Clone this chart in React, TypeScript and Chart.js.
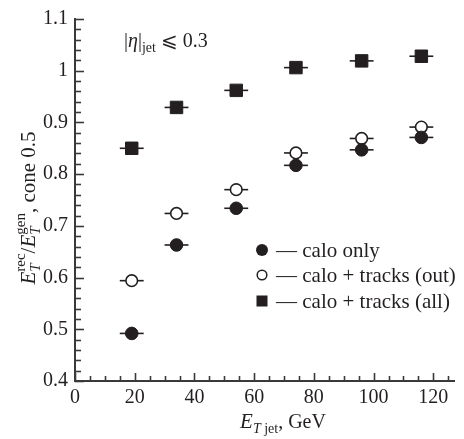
import React, { useEffect, useRef } from "react";
import { Chart, registerables } from "chart.js";

Chart.register(...registerables);

// ---- data ----
const energies = [19, 34, 54, 74, 96, 116];
const xErr = [4, 4, 4, 4, 4, 4];
const caloOnly = [0.492, 0.663, 0.734, 0.817, 0.847, 0.871];
const tracksOut = [0.594, 0.724, 0.77, 0.841, 0.869, 0.891];
const tracksAll = [0.85, 0.929, 0.962, 1.006, 1.019, 1.028];
const seriesLabels = ["calo only", "calo + tracks (out)", "calo + tracks (all)"];
const xTicks = [0, 20, 40, 60, 80, 100, 120];
const xTickLabels = ["0", "20", "40", "60", "80", "100", "120"];
const yTicks = [0.4, 0.5, 0.6, 0.7, 0.8, 0.9, 1.0, 1.1];
const yTickLabels = ["0.4", "0.5", "0.6", "0.7", "0.8", "0.9", "1", "1.1"];
const etaLabel = ["|", "η", "|", "jet", " ⩽ 0.3"];

const INK = "#231f20";
const AXIS = "#3a3a3a";
const SERIF = '"Liberation Serif", "DejaVu Serif", "DejaVu Sans", serif';

type Seg = { t: string; size: number; italic?: boolean; dy?: number; sup?: string; supSize?: number; supDy?: number };

function fontOf(size: number, italic?: boolean) {
  return `${italic ? "italic " : ""}${size}px ${SERIF}`;
}

function segWidth(ctx: CanvasRenderingContext2D, s: Seg) {
  ctx.font = fontOf(s.size, s.italic);
  let w = ctx.measureText(s.t).width;
  if (s.sup) {
    ctx.font = fontOf(s.supSize || s.size, false);
    w = Math.max(w, ctx.measureText(s.sup).width);
  }
  return w;
}

function drawRich(ctx: CanvasRenderingContext2D, segs: Seg[], x: number, y: number, align: "left" | "center", rot = 0) {
  ctx.save();
  ctx.translate(x, y);
  if (rot) ctx.rotate(rot);
  const widths = segs.map((s) => segWidth(ctx, s));
  const total = widths.reduce((a, b) => a + b, 0);
  let cx = align === "center" ? -total / 2 : 0;
  ctx.fillStyle = INK;
  ctx.textBaseline = "alphabetic";
  ctx.textAlign = "left";
  segs.forEach((s, i) => {
    ctx.font = fontOf(s.size, s.italic);
    ctx.fillText(s.t, cx, s.dy || 0);
    if (s.sup) {
      ctx.font = fontOf(s.supSize || s.size, false);
      ctx.fillText(s.sup, cx, s.supDy || 0);
    }
    cx += widths[i];
  });
  ctx.restore();
}

const decorPlugin = {
  id: "decor",
  beforeDatasetsDraw(chart: any) {
    const ctx = chart.ctx as CanvasRenderingContext2D;
    const xs = chart.scales.x;
    const ys = chart.scales.y;
    ctx.save();
    ctx.strokeStyle = INK;
    ctx.lineWidth = 1.6;
    chart.data.datasets.forEach((ds: any) => {
      ds.data.forEach((p: any, i: number) => {
        const e = xErr[i];
        const y = ys.getPixelForValue(p.y);
        ctx.beginPath();
        ctx.moveTo(xs.getPixelForValue(p.x - e), y);
        ctx.lineTo(xs.getPixelForValue(p.x + e), y);
        ctx.stroke();
      });
    });
    ctx.restore();
  },
  afterDraw(chart: any) {
    const ctx = chart.ctx as CanvasRenderingContext2D;
    const xs = chart.scales.x;
    const ys = chart.scales.y;
    const ca = chart.chartArea;
    ctx.save();
    ctx.strokeStyle = AXIS;
    ctx.lineWidth = 1.6;
    // x ticks (inward)
    for (let v = 0; v <= 125; v += 5) {
      const px = Math.round(xs.getPixelForValue(v)) + 0.5;
      const len = v % 20 === 0 ? 8 : 5;
      ctx.beginPath();
      ctx.moveTo(px, ca.bottom);
      ctx.lineTo(px, ca.bottom - len);
      ctx.stroke();
    }
    // y ticks (inward)
    for (let k = 0; k <= 35; k++) {
      const v = 0.4 + k * 0.02;
      const py = Math.round(ys.getPixelForValue(v)) + 0.5;
      const len = k % 5 === 0 ? 9 : 6;
      ctx.beginPath();
      ctx.moveTo(ca.left, py);
      ctx.lineTo(ca.left + len, py);
      ctx.stroke();
    }
    ctx.restore();

    // axis titles
    drawRich(
      ctx,
      [
        { t: "E", size: 21, italic: true },
        { t: "T", size: 15, italic: true, dy: 5, sup: "rec", supSize: 15, supDy: -10 },
        { t: "/", size: 21 },
        { t: "E", size: 21, italic: true },
        { t: "T", size: 15, italic: true, dy: 5, sup: "gen", supSize: 15, supDy: -10 },
        { t: ", cone 0.5", size: 21 },
      ],
      35,
      208,
      "center",
      -Math.PI / 2
    );
    drawRich(
      ctx,
      [
        { t: "E", size: 21, italic: true },
        { t: "T", size: 14, italic: true, dy: 5 },
        { t: " jet", size: 14, dy: 5 },
        { t: ", GeV", size: 20 },
      ],
      283,
      428,
      "center"
    );
    // eta label
    drawRich(
      ctx,
      [
        { t: etaLabel[0], size: 20 },
        { t: etaLabel[1], size: 20, italic: true },
        { t: etaLabel[2], size: 20 },
        { t: etaLabel[3], size: 14, dy: 5 },
        { t: etaLabel[4], size: 20 },
      ],
      124,
      47,
      "left"
    );

    // legend
    const rows = [250, 275, 301];
    const mx = 262;
    ctx.save();
    ctx.fillStyle = INK;
    ctx.strokeStyle = INK;
    ctx.beginPath();
    ctx.arc(mx, rows[0], 6, 0, Math.PI * 2);
    ctx.fill();
    ctx.beginPath();
    ctx.lineWidth = 1.5;
    ctx.arc(mx, rows[1], 4.8, 0, Math.PI * 2);
    ctx.fillStyle = "#fff";
    ctx.fill();
    ctx.stroke();
    ctx.fillStyle = INK;
    ctx.fillRect(mx - 5.5, rows[2] - 5.5, 11, 11);
    ctx.font = fontOf(21);
    ctx.textBaseline = "middle";
    ctx.textAlign = "left";
    seriesLabels.forEach((l, i) => {
      ctx.fillText("— " + l, 276, rows[i] + 1);
    });
    ctx.restore();
  },
};

export default function App() {
  const ref = useRef<HTMLCanvasElement | null>(null);
  useEffect(() => {
    const canvas = ref.current;
    if (!canvas) return;
    const tickFont = { family: SERIF, size: 20 };
    const chart = new Chart(canvas, {
      type: "scatter",
      data: {
        datasets: [
          {
            label: seriesLabels[0],
            data: energies.map((x, i) => ({ x, y: caloOnly[i] })),
            pointStyle: "circle",
            pointRadius: 6.3,
            backgroundColor: INK,
            borderColor: INK,
            borderWidth: 1,
          },
          {
            label: seriesLabels[1],
            data: energies.map((x, i) => ({ x, y: tracksOut[i] })),
            pointStyle: "circle",
            pointRadius: 5.8,
            backgroundColor: "#ffffff",
            borderColor: INK,
            borderWidth: 1.6,
          },
          {
            label: seriesLabels[2],
            data: energies.map((x, i) => ({ x, y: tracksAll[i] })),
            pointStyle: "rect",
            pointRadius: 8.8,
            backgroundColor: INK,
            borderColor: INK,
            borderWidth: 1,
          },
        ],
      },
      options: {
        responsive: false,
        animation: false,
        devicePixelRatio: 1,
        layout: { padding: { top: 14, right: 2, left: 0, bottom: 0 } },
        plugins: { legend: { display: false }, tooltip: { enabled: false } },
        scales: {
          x: {
            type: "linear",
            position: "bottom",
            min: 0,
            max: 127,
            grid: { display: false, drawTicks: false },
            border: { display: true, color: AXIS, width: 2 },
            ticks: {
              font: tickFont,
              color: INK,
              padding: 5,
              maxRotation: 0,
              autoSkip: false,
              callback: (_v: any, i: number) => xTickLabels[i],
            },
            afterBuildTicks: (s: any) => {
              s.ticks = xTicks.map((v) => ({ value: v }));
            },
            afterFit: (s: any) => {
              s.height = 58;
            },
          },
          y: {
            type: "linear",
            min: 0.4,
            max: 1.1,
            grid: { display: false, drawTicks: false },
            border: { display: true, color: AXIS, width: 2 },
            ticks: {
              font: tickFont,
              color: INK,
              padding: 7,
              autoSkip: false,
              callback: (_v: any, i: number) => yTickLabels[i],
            },
            afterBuildTicks: (s: any) => {
              s.ticks = yTicks.map((v) => ({ value: v }));
            },
            afterFit: (s: any) => {
              s.width = 75;
            },
          },
        },
      },
      plugins: [decorPlugin],
    } as any);
    return () => chart.destroy();
  }, []);
  return (
    <div style={{ position: "fixed", left: 0, top: 0, width: 464, height: 439, background: "#fff" }}>
      <canvas ref={ref} width={464} height={439} style={{ width: 464, height: 439, display: "block" }} />
    </div>
  );
}
